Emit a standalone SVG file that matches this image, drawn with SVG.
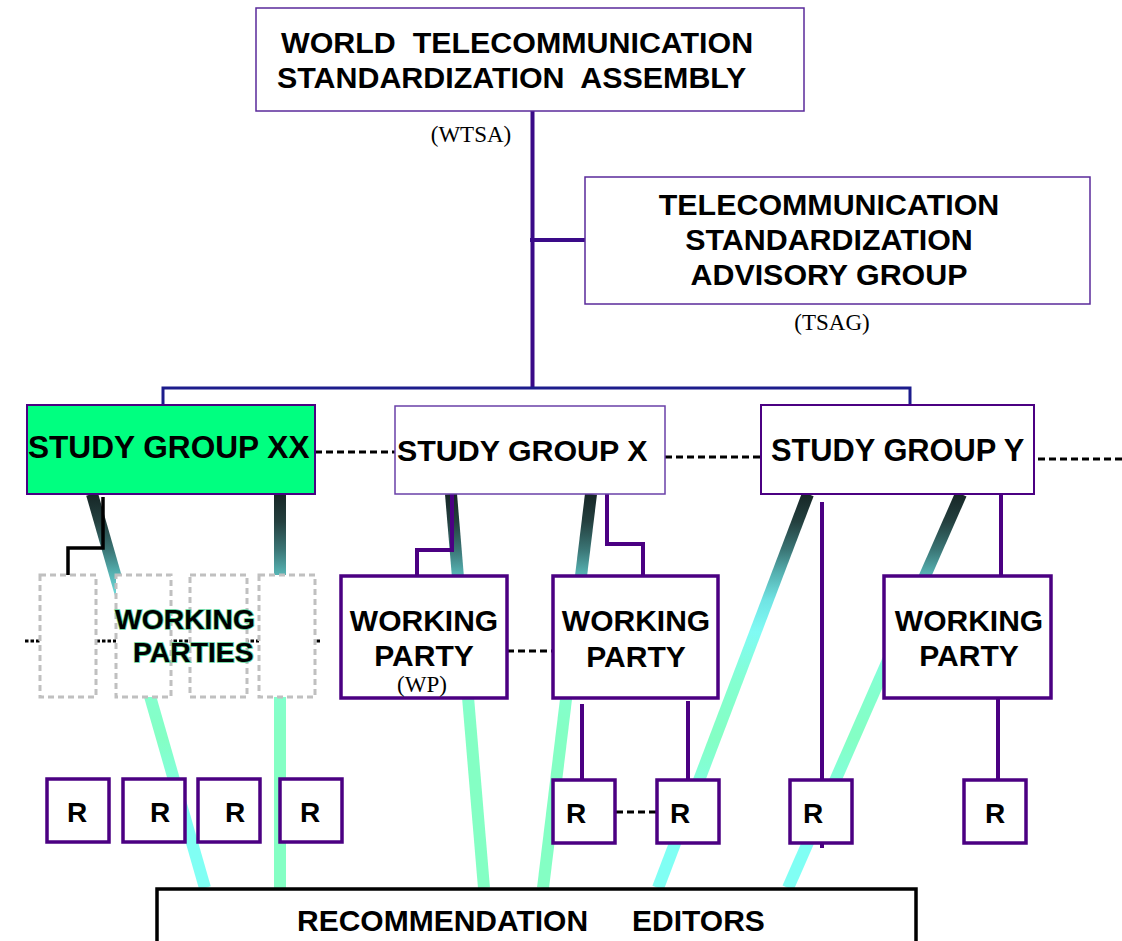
<svg xmlns="http://www.w3.org/2000/svg" width="1122" height="941" viewBox="0 0 1122 941">
<style>
.t{font-family:"Liberation Sans",Arial,sans-serif;font-weight:bold;fill:#000}
.pre{white-space:pre}
.s{font-family:"Liberation Serif","Times New Roman",serif;fill:#000;font-size:23px}
.top{fill:#fff;stroke:#5a2a9a;stroke-width:1.5}
.sg{fill:#fff;stroke:#4b0082;stroke-width:2}
.wp{fill:#fff;stroke:#4b0082;stroke-width:3.5}
.r{fill:#fff;stroke:#4b0082;stroke-width:3.5}
.dwp{fill:#fff;stroke:#c0c0c0;stroke-width:3;stroke-dasharray:6 4}
.pl{fill:none;stroke:#4b0082;stroke-width:4}
.bl{fill:none;stroke:#1c1c8c;stroke-width:3}
.dot{fill:none;stroke:#000;stroke-width:3;stroke-dasharray:7 4}
.thc{fill:none;stroke:url(#gc);stroke-width:12}
.thg{fill:none;stroke:url(#gg);stroke-width:12}
</style>
<defs>
<linearGradient id="gc" gradientUnits="userSpaceOnUse" x1="0" y1="494" x2="0" y2="888">
<stop offset="0" stop-color="#162626"/>
<stop offset="0.07" stop-color="#24403f"/>
<stop offset="0.14" stop-color="#3a7474"/>
<stop offset="0.2" stop-color="#55b0b0"/>
<stop offset="0.27" stop-color="#70e4e4"/>
<stop offset="0.35" stop-color="#80fbf4"/>
<stop offset="0.48" stop-color="#84ffd0"/>
<stop offset="0.62" stop-color="#84ffc4"/>
<stop offset="0.72" stop-color="#82ffda"/>
<stop offset="0.8" stop-color="#80fff4"/>
<stop offset="1" stop-color="#80fff4"/>
</linearGradient>
<linearGradient id="gg" gradientUnits="userSpaceOnUse" x1="0" y1="494" x2="0" y2="888">
<stop offset="0" stop-color="#162626"/>
<stop offset="0.07" stop-color="#24403f"/>
<stop offset="0.14" stop-color="#3a7474"/>
<stop offset="0.2" stop-color="#55b0b0"/>
<stop offset="0.27" stop-color="#70e4e4"/>
<stop offset="0.35" stop-color="#80fbf4"/>
<stop offset="0.48" stop-color="#84ffd0"/>
<stop offset="0.6" stop-color="#84ffc4"/>
<stop offset="1" stop-color="#84ffc4"/>
</linearGradient>
</defs>
<rect x="0" y="0" width="1122" height="941" fill="#fff"/>
<g id="connectors">
<line class="thc" x1="92" y1="494" x2="205" y2="888"/>
<line class="thg" x1="280" y1="494" x2="280" y2="888"/>
<line class="thg" x1="451" y1="494" x2="484" y2="888"/>
<line class="thg" x1="591" y1="494" x2="543" y2="888"/>
<line class="thc" x1="808" y1="494" x2="658" y2="888"/>
<line class="thc" x1="961" y1="494" x2="788" y2="888"/>
<line x1="532.5" y1="111" x2="532.5" y2="388" stroke="#3a0a88" stroke-width="4"/>
<line x1="530" y1="240" x2="585" y2="240" stroke="#3a0a88" stroke-width="4"/>
<polyline class="bl" points="163,405 163,388 910,388 910,405"/>
<line class="dot" x1="315" y1="452" x2="395" y2="452"/>
<line class="dot" x1="665" y1="457" x2="761" y2="457"/>
<line class="dot" x1="1038" y1="459" x2="1122" y2="459"/>
<line class="dot" x1="507" y1="651" x2="553" y2="651"/>
<line class="dot" x1="616" y1="812" x2="656" y2="812"/>
<line x1="25" y1="641" x2="322" y2="641" stroke="#000" stroke-width="3" stroke-dasharray="3.5 2"/>
<polyline points="68,576 68,548 103,548 103,497" fill="none" stroke="#000" stroke-width="3.5"/>
<polyline class="pl" points="452,494 452,550 417,550 417,576"/>
<polyline class="pl" points="607,494 607,544 643,544 643,576"/>
<line class="pl" x1="582" y1="704" x2="582" y2="780"/>
<line class="pl" x1="688" y1="701" x2="688" y2="780"/>
<line class="pl" x1="822" y1="502" x2="822" y2="848"/>
<line class="pl" x1="1001" y1="494" x2="1001" y2="576"/>
<line class="pl" x1="998" y1="698" x2="998" y2="780"/>
</g>
<g id="wtsa">
<rect class="top" x="256" y="8" width="548" height="103"/>
<text class="t pre" xml:space="preserve" font-size="30.4" x="281" y="53">WORLD  TELECOMMUNICATION</text>
<text class="t pre" xml:space="preserve" font-size="30.4" x="277" y="88">STANDARDIZATION  ASSEMBLY</text>
<text class="s" x="471" y="142" text-anchor="middle">(WTSA)</text>
</g>
<g id="tsag">
<rect class="top" x="585" y="177" width="505" height="127"/>
<text class="t" font-size="30.4" x="829" y="215" text-anchor="middle">TELECOMMUNICATION</text>
<text class="t" font-size="30.4" x="829" y="250" text-anchor="middle">STANDARDIZATION</text>
<text class="t" font-size="30.4" x="829" y="285" text-anchor="middle">ADVISORY GROUP</text>
<text class="s" x="832" y="330" text-anchor="middle">(TSAG)</text>
</g>
<g id="sgxx">
<rect x="27" y="405" width="288" height="89" fill="#00ff80" stroke="#4b0082" stroke-width="2"/>
<text class="t" font-size="31.6" x="28" y="458">STUDY GROUP XX</text>
</g>
<g id="sgx">
<rect x="395" y="406" width="270" height="88" fill="#fff" stroke="#6a40a8" stroke-width="1.5"/>
<text class="t" font-size="30.4" x="397" y="461">STUDY GROUP X</text>
</g>
<g id="sgy">
<rect class="sg" x="761" y="405" width="273" height="89"/>
<text class="t" font-size="30.8" x="771" y="461">STUDY GROUP Y</text>
</g>
<g id="wp-xx">
<rect class="dwp" x="40" y="575" width="56" height="122"/>
<rect class="dwp" x="116" y="575" width="55" height="122"/>
<rect class="dwp" x="190" y="575" width="57" height="122"/>
<rect class="dwp" x="259" y="575" width="56" height="122"/>
<text class="t" font-size="28.3" x="115" y="629" stroke="#5ad49a" stroke-width="1.6" paint-order="stroke" fill="#001a0d">WORKING</text>
<text class="t" font-size="28.3" x="133" y="662" stroke="#5ad49a" stroke-width="1.6" paint-order="stroke" fill="#001a0d">PARTIES</text>
</g>
<g id="wp1">
<rect class="wp" x="341" y="576" width="166" height="122"/>
<text class="t" font-size="30" x="424" y="631" text-anchor="middle">WORKING</text>
<text class="t" font-size="30" x="424" y="666" text-anchor="middle">PARTY</text>
<text class="s" x="422" y="692" text-anchor="middle">(WP)</text>
</g>
<g id="wp2">
<rect class="wp" x="553" y="576" width="165" height="122"/>
<text class="t" font-size="30" x="636" y="631" text-anchor="middle">WORKING</text>
<text class="t" font-size="30" x="636" y="667" text-anchor="middle">PARTY</text>
</g>
<g id="wp3">
<rect class="wp" x="884" y="576" width="167" height="122"/>
<text class="t" font-size="30" x="969" y="631" text-anchor="middle">WORKING</text>
<text class="t" font-size="30" x="969" y="666" text-anchor="middle">PARTY</text>
</g>
<g id="r1"><rect class="r" x="47" y="779" width="62" height="63"/><text class="t" font-size="28" x="77" y="822" text-anchor="middle">R</text></g>
<g id="r2"><rect class="r" x="123" y="779" width="62" height="63"/><text class="t" font-size="28" x="160" y="822" text-anchor="middle">R</text></g>
<g id="r3"><rect class="r" x="198" y="779" width="62" height="63"/><text class="t" font-size="28" x="235" y="822" text-anchor="middle">R</text></g>
<g id="r4"><rect class="r" x="280" y="779" width="62" height="63"/><text class="t" font-size="28" x="310" y="822" text-anchor="middle">R</text></g>
<g id="r5"><rect class="r" x="553" y="780" width="62" height="63"/><text class="t" font-size="28" x="576" y="823" text-anchor="middle">R</text></g>
<g id="r6"><rect class="r" x="657" y="780" width="62" height="63"/><text class="t" font-size="28" x="680" y="823" text-anchor="middle">R</text></g>
<g id="r7"><rect class="r" x="790" y="780" width="62" height="63"/><text class="t" font-size="28" x="813" y="823" text-anchor="middle">R</text></g>
<g id="r8"><rect class="r" x="964" y="780" width="62" height="63"/><text class="t" font-size="28" x="995" y="823" text-anchor="middle">R</text></g>
<g id="editors">
<rect x="157" y="889" width="759" height="70" fill="#fff" stroke="#000" stroke-width="3.5"/>
<text class="t" font-size="30" x="297" y="931">RECOMMENDATION</text>
<text class="t" font-size="30" x="632" y="931">EDITORS</text>
</g>
</svg>
